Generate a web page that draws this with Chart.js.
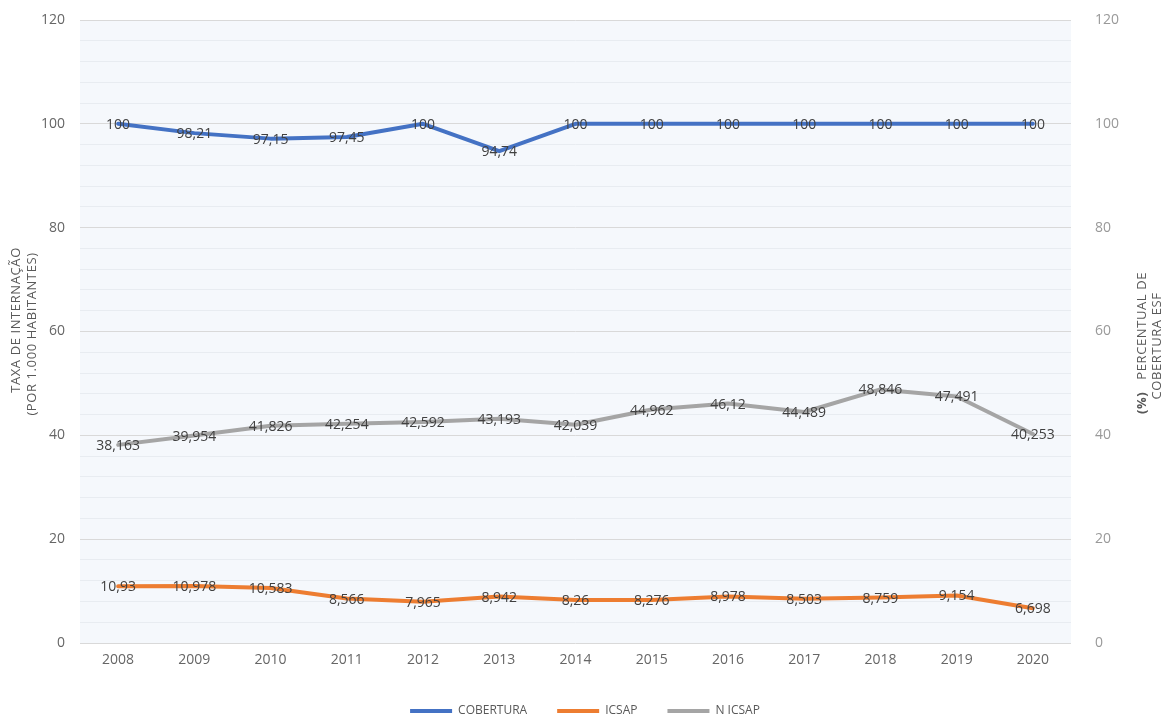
<!DOCTYPE html>
<html>
<head>
<meta charset="utf-8">
<script src="https://cdn.jsdelivr.net/npm/chart.js@4"></script>
<style>
  html, body { margin: 0; padding: 0; background: #fff; }
</style>
</head>
<body>
<canvas id="chart" width="1170" height="719"></canvas>
<script>
// data
const years = ['2008', '2009', '2010', '2011', '2012', '2013', '2014', '2015', '2016', '2017', '2018', '2019', '2020'];
const cobertura = [100, 98.21, 97.15, 97.45, 100, 94.74, 100, 100, 100, 100, 100, 100, 100];
const icsap = [10.93, 10.978, 10.583, 8.566, 7.965, 8.942, 8.26, 8.276, 8.978, 8.503, 8.759, 9.154, 6.698];
const nIcsap = [38.163, 39.954, 41.826, 42.254, 42.592, 43.193, 42.039, 44.962, 46.12, 44.489, 48.846, 47.491, 40.253];
const seriesNames = ['COBERTURA', 'ICSAP', 'N ICSAP'];
const leftTitle = ['TAXA DE INTERNAÇÃO', '(POR 1.000 HABITANTES)'];
const rightTitle = ['(%)', 'PERCENTUAL DE', 'COBERTURA ESF'];

const FONT = '"Open Sans", "DejaVu Sans", sans-serif';
const fmt = v => String(v).replace('.', ',');

// plot background, point labels and the two rotated axis titles
const decorPlugin = {
  id: 'decor',
  beforeDraw(chart) {
    const { ctx, chartArea: a } = chart;
    ctx.save();
    ctx.fillStyle = '#f5f8fc';
    ctx.fillRect(a.left, a.top, a.right - a.left, a.bottom - a.top);
    ctx.restore();
  },
  afterDatasetsDraw(chart) {
    const { ctx } = chart;
    ctx.save();
    ctx.font = '14px ' + FONT;
    ctx.fillStyle = '#404040';
    ctx.textAlign = 'center';
    ctx.textBaseline = 'middle';
    chart.data.datasets.forEach((ds, i) => {
      chart.getDatasetMeta(i).data.forEach((pt, j) => {
        ctx.fillText(fmt(ds.data[j]), pt.x, pt.y + 1);
      });
    });
    ctx.restore();
  },
  afterDraw(chart) {
    const { ctx } = chart;
    ctx.save();
    ctx.fillStyle = '#595959';
    ctx.textBaseline = 'middle';
    ctx.letterSpacing = '0.6px';

    // left title
    ctx.save();
    ctx.font = '13px ' + FONT;
    ctx.textAlign = 'center';
    ctx.translate(16, 320);
    ctx.rotate(-Math.PI / 2);
    ctx.fillText(leftTitle[0], 0, 0);
    ctx.fillText(leftTitle[1], -14, 16);
    ctx.restore();

    // right title, first line has bold "(%)"
    ctx.save();
    ctx.translate(1142, 343);
    ctx.rotate(-Math.PI / 2);
    ctx.font = 'bold 13px ' + FONT;
    const wPct = ctx.measureText(rightTitle[0]).width;
    ctx.font = '13px ' + FONT;
    const gap = 12;
    const wTxt = ctx.measureText(rightTitle[1]).width;
    const total = wPct + gap + wTxt;
    ctx.textAlign = 'left';
    ctx.font = 'bold 13px ' + FONT;
    ctx.fillText(rightTitle[0], -total / 2, 0);
    ctx.font = '13px ' + FONT;
    ctx.fillText(rightTitle[1], -total / 2 + wPct + gap, 0);
    ctx.textAlign = 'center';
    ctx.fillText(rightTitle[2], -3, 15);
    ctx.restore();

    ctx.restore();
  }
};

const lineDefaults = {
  borderWidth: 4,
  pointRadius: 0,
  pointHoverRadius: 0,
  tension: 0,
  borderJoinStyle: 'round',
  borderCapStyle: 'round',
  fill: false
};

new Chart(document.getElementById('chart').getContext('2d'), {
  type: 'line',
  data: {
    labels: years,
    datasets: [
      { ...lineDefaults, label: seriesNames[0], data: cobertura, borderColor: '#4472c4', backgroundColor: '#4472c4', yAxisID: 'y2' },
      { ...lineDefaults, label: seriesNames[1], data: icsap, borderColor: '#ed7d31', backgroundColor: '#ed7d31', yAxisID: 'y' },
      { ...lineDefaults, label: seriesNames[2], data: nIcsap, borderColor: '#a5a5a5', backgroundColor: '#a5a5a5', yAxisID: 'y' }
    ]
  },
  options: {
    responsive: false,
    animation: false,
    layout: { padding: { top: 20, bottom: -8, left: 0, right: 0 } },
    plugins: {
      tooltip: { enabled: false },
      legend: {
        position: 'bottom',
        labels: {
          color: '#595959',
          font: { family: FONT, size: 12 },
          boxWidth: 42,
          boxHeight: 4,
          padding: 30,
          generateLabels: chart => Chart.defaults.plugins.legend.labels.generateLabels(chart)
            .map(l => ({ ...l, lineWidth: 0, fillStyle: l.strokeStyle }))
        }
      }
    },
    scales: {
      x: {
        offset: true,
        grid: { display: false, drawTicks: false },
        border: { display: false },
        ticks: { color: '#666666', font: { family: FONT, size: 14 }, padding: 9 },
        afterFit: s => { s.height = 32; s.paddingLeft = 0; s.paddingRight = 0; }
      },
      y: {
        position: 'left',
        min: 0,
        max: 120,
        border: { display: false },
        grid: {
          drawTicks: false,
          color: c => (c.tick.value % 20 === 0 ? '#d9d9d9' : '#e8ecf1'),
          lineWidth: 1
        },
        ticks: {
          stepSize: 4,
          autoSkip: false,
          padding: 15,
          color: '#666666',
          font: { family: FONT, size: 14 },
          callback: v => (v % 20 === 0 ? v : '')
        },
        afterFit: s => { s.width = 80; s.paddingTop = 0; s.paddingBottom = 0; }
      },
      y2: {
        position: 'right',
        min: 0,
        max: 120,
        border: { display: false },
        grid: { drawOnChartArea: false, drawTicks: false },
        ticks: { stepSize: 20, padding: 24, color: '#999999', font: { family: FONT, size: 14 } },
        afterFit: s => { s.width = 99; s.paddingTop = 0; s.paddingBottom = 0; }
      }
    }
  },
  plugins: [decorPlugin]
});
</script>
</body>
</html>
